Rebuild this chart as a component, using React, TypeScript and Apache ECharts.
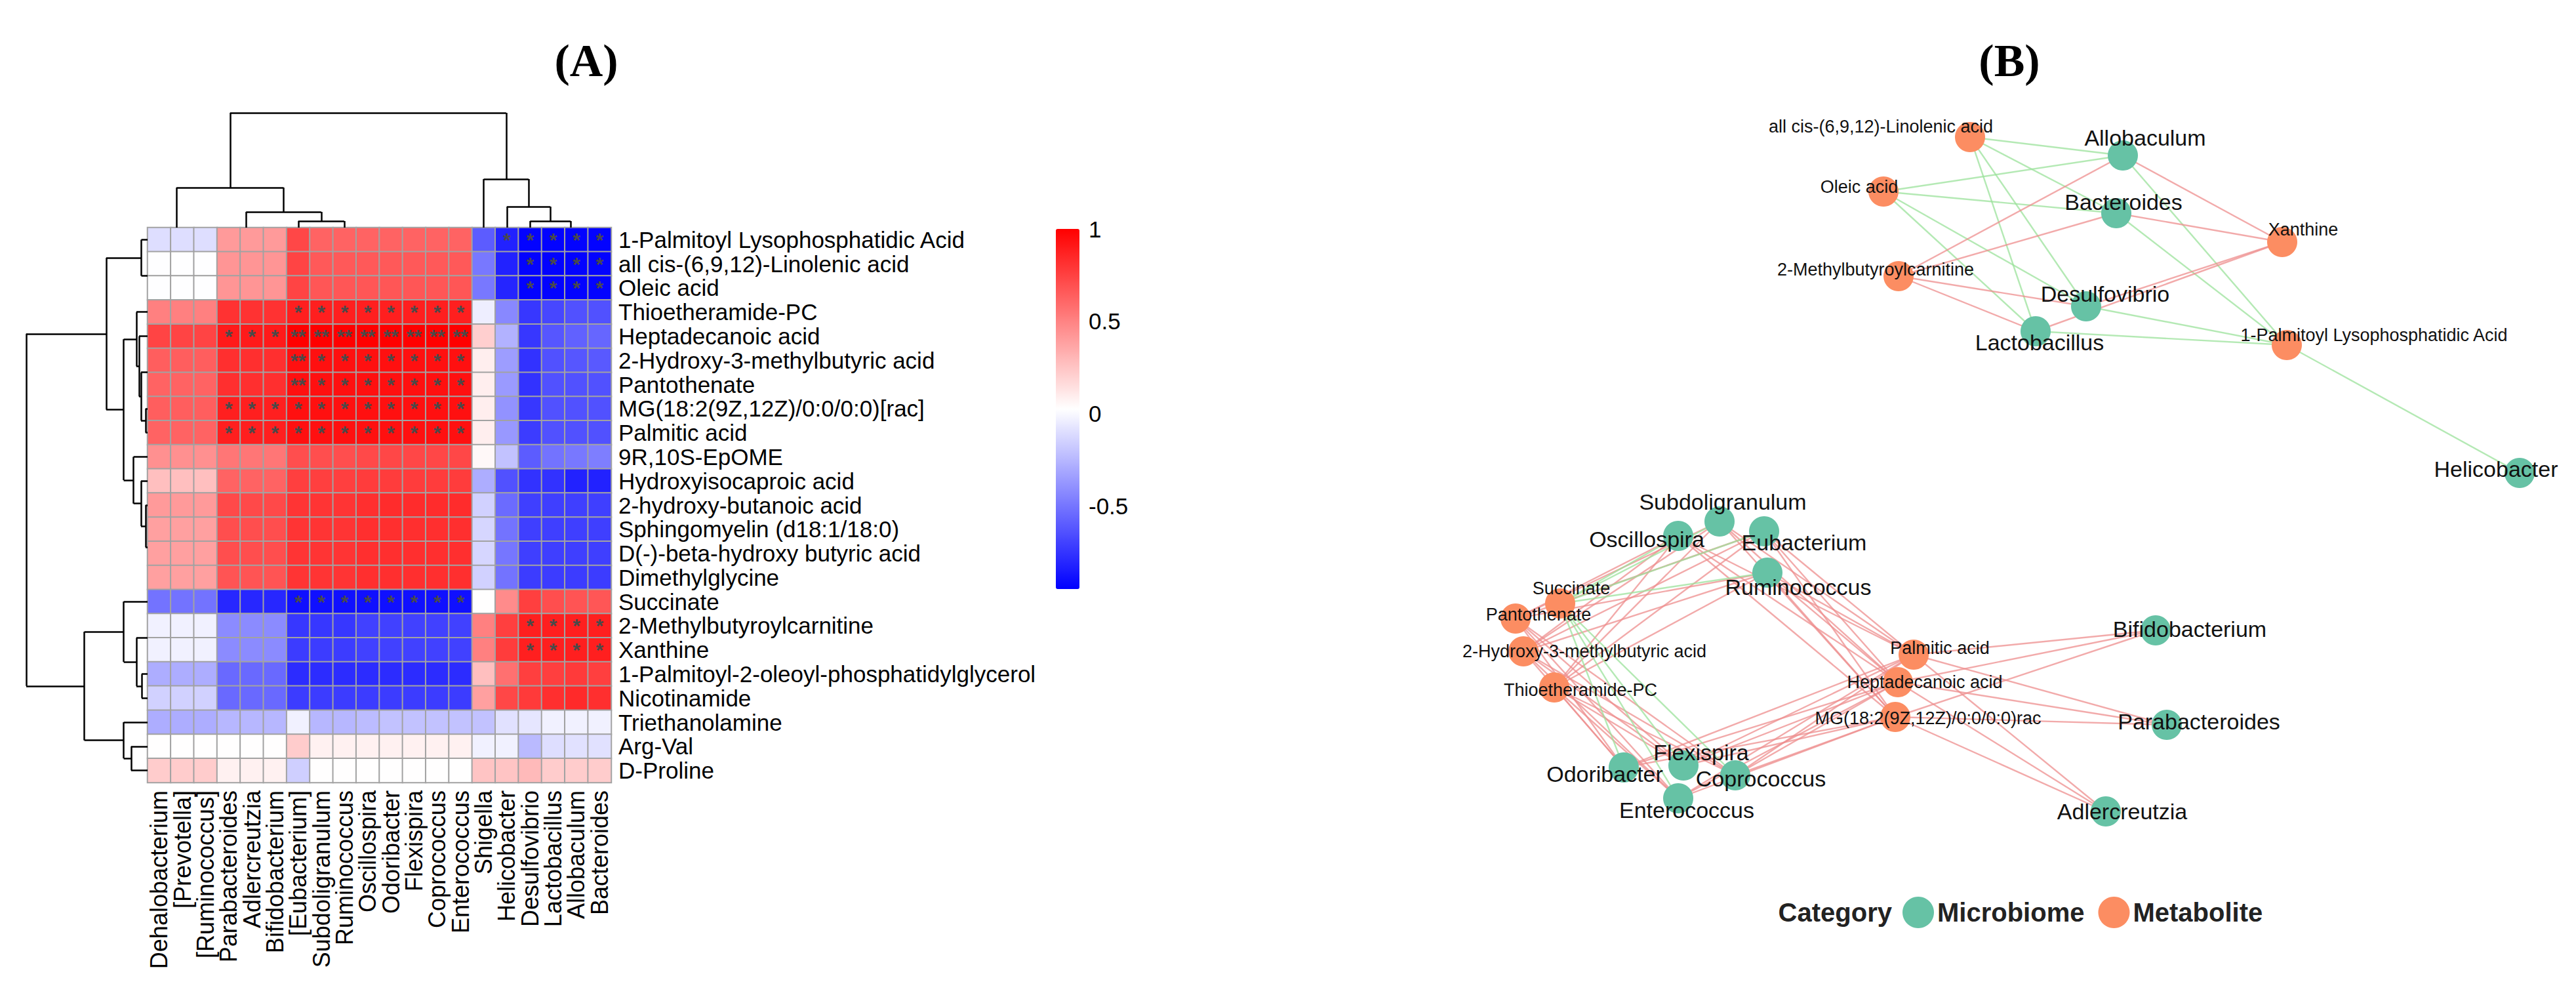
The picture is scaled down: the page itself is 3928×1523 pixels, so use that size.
import React, { useEffect, useRef } from 'react';
import * as echarts from 'echarts';

const W = 3928;
const H = 1523;
const FONT = 'Liberation Sans, Arial, Helvetica, sans-serif';

// ---------- Panel A data ----------
const colNames = ['Dehalobacterium', '[Prevotella]', '[Ruminococcus]', 'Parabacteroides', 'Adlercreutzia', 'Bifidobacterium', '[Eubacterium]', 'Subdoligranulum', 'Ruminococcus', 'Oscillospira', 'Odoribacter', 'Flexispira', 'Coprococcus', 'Enterococcus', 'Shigella', 'Helicobacter', 'Desulfovibrio', 'Lactobacillus', 'Allobaculum', 'Bacteroides'];

const rowNames = ['1-Palmitoyl Lysophosphatidic Acid', 'all cis-(6,9,12)-Linolenic acid', 'Oleic acid', 'Thioetheramide-PC', 'Heptadecanoic acid', '2-Hydroxy-3-methylbutyric acid', 'Pantothenate', 'MG(18:2(9Z,12Z)/0:0/0:0)[rac]', 'Palmitic acid', '9R,10S-EpOME', 'Hydroxyisocaproic acid', '2-hydroxy-butanoic acid', 'Sphingomyelin (d18:1/18:0)', 'D(-)-beta-hydroxy butyric acid', 'Dimethylglycine', 'Succinate', '2-Methylbutyroylcarnitine', 'Xanthine', '1-Palmitoyl-2-oleoyl-phosphatidylglycerol', 'Nicotinamide', 'Triethanolamine', 'Arg-Val', 'D-Proline'];

const corr: number[][] = [
  [-0.10, -0.10, -0.10, 0.41, 0.41, 0.41, 0.73, 0.62, 0.62, 0.62, 0.62, 0.62, 0.62, 0.62, -0.60, -0.82, -0.94, -0.94, -0.94, -0.94],
  [0.02, 0.02, 0.02, 0.43, 0.43, 0.43, 0.74, 0.66, 0.66, 0.66, 0.66, 0.66, 0.66, 0.66, -0.49, -0.82, -0.94, -0.94, -0.94, -0.94],
  [0.02, 0.02, 0.02, 0.43, 0.43, 0.43, 0.74, 0.67, 0.67, 0.67, 0.67, 0.67, 0.67, 0.67, -0.49, -0.81, -0.94, -0.94, -0.94, -0.94],
  [0.51, 0.51, 0.51, 0.81, 0.81, 0.81, 0.88, 0.88, 0.88, 0.88, 0.88, 0.88, 0.88, 0.88, -0.04, -0.43, -0.74, -0.68, -0.64, -0.64],
  [0.74, 0.74, 0.74, 0.90, 0.90, 0.90, 1.00, 1.00, 1.00, 1.00, 1.00, 1.00, 1.00, 1.00, 0.21, -0.27, -0.74, -0.62, -0.58, -0.56],
  [0.64, 0.64, 0.64, 0.82, 0.82, 0.82, 0.94, 0.94, 0.94, 0.94, 0.94, 0.94, 0.94, 0.94, 0.09, -0.35, -0.76, -0.64, -0.62, -0.61],
  [0.62, 0.62, 0.62, 0.82, 0.82, 0.82, 0.94, 0.94, 0.94, 0.94, 0.94, 0.94, 0.94, 0.94, 0.09, -0.36, -0.76, -0.64, -0.64, -0.64],
  [0.64, 0.64, 0.64, 0.88, 0.88, 0.88, 0.94, 0.94, 0.94, 0.94, 0.94, 0.94, 0.94, 0.94, 0.09, -0.39, -0.74, -0.64, -0.64, -0.64],
  [0.62, 0.62, 0.62, 0.88, 0.88, 0.88, 0.94, 0.94, 0.94, 0.94, 0.94, 0.94, 0.94, 0.94, 0.09, -0.37, -0.72, -0.64, -0.64, -0.64],
  [0.45, 0.45, 0.45, 0.55, 0.55, 0.55, 0.70, 0.70, 0.70, 0.72, 0.73, 0.73, 0.73, 0.73, 0.05, -0.21, -0.60, -0.51, -0.49, -0.47],
  [0.27, 0.27, 0.27, 0.62, 0.62, 0.62, 0.76, 0.76, 0.76, 0.77, 0.77, 0.77, 0.77, 0.77, -0.29, -0.64, -0.76, -0.76, -0.82, -0.82],
  [0.41, 0.41, 0.41, 0.72, 0.72, 0.72, 0.80, 0.80, 0.80, 0.82, 0.83, 0.83, 0.83, 0.83, -0.15, -0.54, -0.71, -0.71, -0.71, -0.71],
  [0.39, 0.39, 0.39, 0.70, 0.70, 0.70, 0.80, 0.80, 0.80, 0.82, 0.82, 0.82, 0.82, 0.82, -0.13, -0.51, -0.71, -0.71, -0.71, -0.71],
  [0.39, 0.39, 0.39, 0.70, 0.70, 0.70, 0.80, 0.80, 0.80, 0.82, 0.82, 0.82, 0.82, 0.82, -0.13, -0.50, -0.71, -0.71, -0.71, -0.71],
  [0.39, 0.39, 0.39, 0.68, 0.68, 0.68, 0.80, 0.80, 0.80, 0.82, 0.82, 0.82, 0.82, 0.82, -0.15, -0.51, -0.72, -0.72, -0.72, -0.72],
  [-0.51, -0.51, -0.51, -0.80, -0.80, -0.80, -0.89, -0.89, -0.89, -0.89, -0.89, -0.89, -0.89, -0.89, 0.03, 0.47, 0.76, 0.70, 0.68, 0.67],
  [-0.03, -0.03, -0.03, -0.42, -0.42, -0.42, -0.74, -0.74, -0.74, -0.70, -0.70, -0.70, -0.70, -0.70, 0.51, 0.76, 0.88, 0.88, 0.88, 0.88],
  [-0.03, -0.03, -0.03, -0.42, -0.42, -0.42, -0.72, -0.72, -0.72, -0.70, -0.70, -0.70, -0.70, -0.70, 0.51, 0.77, 0.88, 0.88, 0.88, 0.88],
  [-0.29, -0.29, -0.29, -0.55, -0.55, -0.55, -0.78, -0.78, -0.78, -0.78, -0.78, -0.78, -0.78, -0.78, 0.27, 0.57, 0.76, 0.76, 0.78, 0.76],
  [-0.15, -0.15, -0.15, -0.55, -0.55, -0.55, -0.72, -0.72, -0.72, -0.72, -0.72, -0.72, -0.72, -0.72, 0.39, 0.73, 0.78, 0.82, 0.84, 0.82],
  [-0.29, -0.29, -0.29, -0.25, -0.25, -0.25, -0.03, -0.25, -0.25, -0.23, -0.21, -0.21, -0.21, -0.21, -0.21, -0.09, -0.07, -0.03, -0.03, -0.03],
  [0.03, 0.03, 0.03, 0.03, 0.03, 0.03, 0.22, 0.08, 0.08, 0.08, 0.08, 0.08, 0.08, 0.08, -0.03, -0.03, -0.24, -0.10, -0.09, -0.09],
  [0.22, 0.22, 0.22, 0.08, 0.08, 0.08, -0.16, 0.03, 0.03, 0.03, 0.03, 0.03, 0.03, 0.03, 0.25, 0.25, 0.29, 0.22, 0.22, 0.22],
];

// significance code per cell: 0 none, 1 "*", 2 "**"
const signif: string[] = [
  '00000000000000011111',
  '00000000000000001111',
  '00000000000000001111',
  '00000011111111000000',
  '00011122222222000000',
  '00000021111111000000',
  '00000021111111000000',
  '00011111111111000000',
  '00011111111111000000',
  '00000000000000000000',
  '00000000000000000000',
  '00000000000000000000',
  '00000000000000000000',
  '00000000000000000000',
  '00000000000000000000',
  '00000011111111000000',
  '00000000000000001111',
  '00000000000000001111',
  '00000000000000000000',
  '00000000000000000000',
  '00000000000000000000',
  '00000000000000000000',
  '00000000000000000000',
];

// hclust-style merges: negative = leaf (1-based), positive = earlier merge; third = height
const colMerges: number[][] = [
  [-2, -3, 0], [-1, 1, 0], [-5, -6, 0], [-4, 3, 0],
  [-13, -14, 0], [-12, 5, 0], [-11, 6, 0], [-10, 7, 0], [-9, 8, 0], [-8, 9, 0],
  [-7, 10, 10], [4, 11, 24], [2, 12, 61],
  [-19, -20, 0], [-18, 14, 0], [-17, 15, 10], [-16, 16, 32], [-15, 17, 74],
  [13, 18, 175],
];
const rowMerges: number[][] = [
  [-2, -3, 0], [-1, 1, 9.5],
  [-6, -7, 0], [-8, -9, 3], [3, 4, 10], [-5, 5, 13], [-4, 6, 17],
  [-14, -15, 0], [-13, 8, 0], [-12, 9, 3], [-11, 10, 10], [-10, 11, 21.4],
  [7, 12, 36.4], [2, 13, 63],
  [-17, -18, 0], [-19, -20, 9], [15, 16, 17], [-16, 17, 36.4],
  [-22, -23, 25], [-21, 19, 36.4],
  [18, 20, 96.4], [14, 21, 185],
];

const colorbarTicks = [-0.5, 0, 0.5, 1];
const colorMin = -0.95;
const colorMax = 1;

// ---------- Panel B data (node layout) ----------
const nodeLayout: [string, number, number][] = [
  ['Allobaculum', 3237, 237], ['Bacteroides', 3227, 325], ['Desulfovibrio', 3181, 467], ['Lactobacillus', 3104, 505],
  ['Helicobacter', 3842, 721], ['Subdoligranulum', 2622, 795], ['Oscillospira', 2559, 817], ['[Eubacterium]', 2690, 810],
  ['Ruminococcus', 2695, 873], ['Flexispira', 2567, 1167], ['Odoribacter', 2476, 1170], ['Coprococcus', 2646, 1182],
  ['Enterococcus', 2559, 1217], ['Bifidobacterium', 3287, 961], ['Parabacteroides', 3304, 1105], ['Adlercreutzia', 3211, 1237],
  ['all cis-(6,9,12)-Linolenic acid', 3004, 209], ['Oleic acid', 2872, 292], ['Xanthine', 3480, 369],
  ['2-Methylbutyroylcarnitine', 2895, 421], ['1-Palmitoyl Lysophosphatidic Acid', 3487, 526],
  ['Succinate', 2379, 920], ['Pantothenate', 2311, 943], ['2-Hydroxy-3-methylbutyric acid', 2323, 993],
  ['Thioetheramide-PC', 2370, 1048], ['Palmitic acid', 2918, 998], ['Heptadecanoic acid', 2894, 1040],
  ['MG(18:2(9Z,12Z)/0:0/0:0)[rac]', 2890, 1093],
];
const labelOffsets: Record<string, [number, number]> = {
  'Allobaculum': [34, -27], 'Bacteroides': [11, -17], 'Desulfovibrio': [29, -19], 'Lactobacillus': [6, 17],
  'Helicobacter': [-36, -6], 'Subdoligranulum': [5, -30], 'Oscillospira': [-48, 5], '[Eubacterium]': [61, 17],
  'Ruminococcus': [47, 22], 'Flexispira': [27, -20], 'Odoribacter': [-29, 10], 'Coprococcus': [39, 5],
  'Enterococcus': [13, 18], 'Bifidobacterium': [52, -2], 'Parabacteroides': [49, -5], 'Adlercreutzia': [25, 0],
  'all cis-(6,9,12)-Linolenic acid': [-136, -16], 'Oleic acid': [-37, -7], 'Xanthine': [32, -19],
  '2-Methylbutyroylcarnitine': [-35, -10], '1-Palmitoyl Lysophosphatidic Acid': [133, -15],
  'Succinate': [17, -23], 'Pantothenate': [35, -6], '2-Hydroxy-3-methylbutyric acid': [93, 0],
  'Thioetheramide-PC': [40, 4], 'Palmitic acid': [40, -10], 'Heptadecanoic acid': [41, 0],
  'MG(18:2(9Z,12Z)/0:0/0:0)[rac]': [50, 2],
};
const categories = ['Microbiome', 'Metabolite'];

function dendroSegments(merges: number[][]) {
  const pos: number[] = [];
  const hgt: number[] = [];
  const segs: number[][][] = [];
  const get = (id: number) => (id < 0 ? { p: -id, h: 0 } : { p: pos[id - 1], h: hgt[id - 1] });
  merges.forEach(([a, b, h], i) => {
    const A = get(a);
    const B = get(b);
    pos[i] = (A.p + B.p) / 2;
    hgt[i] = h;
    if (h > A.h) segs.push([[A.p, A.h], [A.p, h]]);
    if (h > B.h) segs.push([[B.p, B.h], [B.p, h]]);
    if (h > 0) segs.push([[A.p, h], [B.p, h]]);
  });
  return segs;
}

function buildOption() {
  const heatData: number[][] = [];
  corr.forEach((row, r) => row.forEach((v, c) => heatData.push([c, r, v])));

  const colSegs = dendroSegments(colMerges).map((s) => ({ coords: s }));
  const rowSegs = dendroSegments(rowMerges).map((s) => ({ coords: s.map(([p, h]) => [h, p]) }));

  const links: any[] = [];
  signif.forEach((code, r) => {
    code.split('').forEach((ch, c) => {
      if (ch !== '0') {
        const positive = corr[r][c] > 0;
        links.push({
          source: rowNames[r],
          target: colNames[c],
          lineStyle: { color: positive ? '#EE8E8E' : '#9BE29B', width: 2.4, opacity: 0.75 },
        });
      }
    });
  });

  const isMicrobe = (name: string) => colNames.indexOf(name) >= 0;

  const nodes = nodeLayout.map(([name, x, y]) => ({
    name,
    value: [x, y],
    category: isMicrobe(name) ? 0 : 1,
  }));

  const labelPoints = nodeLayout.map(([name, x, y]) => ({
    name,
    value: [x, y],
    label: {
      offset: labelOffsets[name],
      fontSize: isMicrobe(name) ? 34 : 27,
    },
  }));

  const axisOff = { show: false };

  return {
    animation: false,
    backgroundColor: '#ffffff',
    textStyle: { fontFamily: FONT },
    grid: [
      { left: 225, top: 347, width: 707, height: 846 },
      { left: 225, top: 172, width: 707, height: 175 },
      { left: 40, top: 347, width: 185, height: 846 },
      { left: 1610, top: 349, width: 36, height: 549 },
      { left: 0, top: 0, width: W, height: H },
    ],
    xAxis: [
      {
        type: 'category', gridIndex: 0, data: colNames, position: 'bottom',
        axisLine: { show: false }, axisTick: { show: false }, splitLine: { show: false },
        axisLabel: { rotate: 90, interval: 0, fontSize: 36, color: '#000', margin: 12, fontFamily: FONT },
      },
      { type: 'value', gridIndex: 1, min: 0.5, max: 20.5, ...axisOff },
      { type: 'value', gridIndex: 2, min: 0, max: 185, inverse: true, ...axisOff },
      { type: 'value', gridIndex: 3, min: 0, max: 1, ...axisOff },
      { type: 'value', gridIndex: 4, min: 0, max: W, ...axisOff },
    ],
    yAxis: [
      {
        type: 'category', gridIndex: 0, data: rowNames, inverse: true, position: 'right',
        axisLine: { show: false }, axisTick: { show: false }, splitLine: { show: false },
        axisLabel: { interval: 0, fontSize: 35, color: '#000', margin: 11, fontFamily: FONT },
      },
      { type: 'value', gridIndex: 1, min: 0, max: 175, ...axisOff },
      { type: 'value', gridIndex: 2, min: 0.5, max: 23.5, inverse: true, ...axisOff },
      {
        type: 'value', gridIndex: 3, min: colorMin, max: colorMax, position: 'right',
        axisLine: { show: false }, axisTick: { show: false }, splitLine: { show: false },
        axisLabel: { customValues: colorbarTicks, fontSize: 35, color: '#000', margin: 14, fontFamily: FONT },
      },
      { type: 'value', gridIndex: 4, min: 0, max: H, inverse: true, ...axisOff },
    ],
    visualMap: {
      type: 'continuous', min: colorMin, max: colorMax, seriesIndex: 0, calculable: false,
      show: true, left: 1610, top: 349, itemWidth: 36, itemHeight: 549, padding: 0,
      orient: 'vertical', hoverLink: false,
      inRange: { color: ['#0000FF', '#FFFFFF', '#FF0000'] },
    },
    legend: {
      data: categories, left: 2901, top: 1367, itemWidth: 48, itemHeight: 48, itemGap: 21,
      icon: 'circle', padding: 0, selectedMode: false,
      textStyle: { fontSize: 40, fontWeight: 'bold', color: '#222', fontFamily: FONT },
    },
    graphic: [
      { type: 'text', x: 894, y: 92, style: { text: '(A)', font: 'bold 70px "Liberation Serif", "Times New Roman", serif', fill: '#000', align: 'center', verticalAlign: 'middle' } },
      { type: 'text', x: 3064, y: 92, style: { text: '(B)', font: 'bold 70px "Liberation Serif", "Times New Roman", serif', fill: '#000', align: 'center', verticalAlign: 'middle' } },
      { type: 'text', x: 2885, y: 1391, style: { text: 'Category', font: 'bold 40px ' + FONT, fill: '#222', align: 'right', verticalAlign: 'middle' } },
    ],
    series: [
      {
        type: 'heatmap', xAxisIndex: 0, yAxisIndex: 0, data: heatData,
        itemStyle: { borderColor: '#a2a2a2', borderWidth: 2 },
        label: {
          show: true, color: '#4a4a4a', fontSize: 30, fontWeight: 'bold', fontFamily: FONT,
          formatter: (p: any) => {
            const code = signif[p.data[1]][p.data[0]];
            return code === '2' ? '**' : code === '1' ? '*' : '';
          },
        },
        emphasis: { disabled: true },
        silent: true,
      },
      {
        type: 'lines', coordinateSystem: 'cartesian2d', xAxisIndex: 1, yAxisIndex: 1,
        data: colSegs, clip: false, silent: true,
        lineStyle: { color: '#000', width: 2.5, opacity: 1 },
      },
      {
        type: 'lines', coordinateSystem: 'cartesian2d', xAxisIndex: 2, yAxisIndex: 2,
        data: rowSegs, clip: false, silent: true,
        lineStyle: { color: '#000', width: 2.5, opacity: 1 },
      },
      {
        type: 'graph', coordinateSystem: 'cartesian2d', xAxisIndex: 4, yAxisIndex: 4,
        layout: 'none', symbolSize: 46, z: 5,
        categories: [
          { name: categories[0], itemStyle: { color: '#66C2A5' } },
          { name: categories[1], itemStyle: { color: '#FC8D62' } },
        ],
        data: nodes,
        links,
        label: { show: false },
        lineStyle: { curveness: 0 },
        emphasis: { disabled: true },
        silent: true,
      },
      {
        type: 'scatter', xAxisIndex: 4, yAxisIndex: 4, z: 10,
        data: labelPoints, symbolSize: 1,
        itemStyle: { color: 'rgba(255,255,255,0)', opacity: 1 },
        label: {
          show: true, position: 'inside', color: '#111111', opacity: 1, fontFamily: FONT,
          textBorderWidth: 0,
          formatter: (p: any) => String(p.name).replace(/[\[\]]/g, ''),
        },
        emphasis: { disabled: true },
        silent: true,
      },
    ],
  };
}

export default function App() {
  const ref = useRef<HTMLDivElement>(null);
  useEffect(() => {
    if (!ref.current) return;
    const chart = echarts.init(ref.current, null, { renderer: 'svg', width: W, height: H });
    chart.setOption(buildOption() as any);
    return () => chart.dispose();
  }, []);
  return <div ref={ref} style={{ position: 'absolute', left: 0, top: 0, width: W, height: H, background: '#fff' }} />;
}
